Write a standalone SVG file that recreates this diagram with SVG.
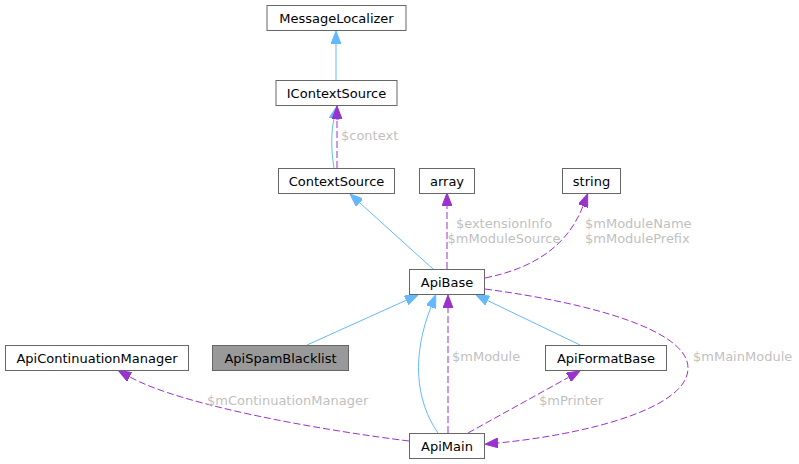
<svg xmlns="http://www.w3.org/2000/svg" width="799" height="464" viewBox="0 0 799 464">
<style>
.node rect{fill:#ffffff;stroke:#666666;stroke-width:1}
.node text{font-family:"DejaVu Sans",sans-serif;font-size:13px;fill:#000000;text-anchor:middle}
.node.hl rect{fill:#999999}
.inh{fill:none;stroke:#63b8ff;stroke-width:1}
.use{fill:none;stroke:#9a32cd;stroke-width:1;stroke-dasharray:7,3}
.lbl{font-family:"DejaVu Sans",sans-serif;font-size:13px;fill:#bfbfbf}
</style>
<defs>
<marker id="ab" viewBox="0 -5 13 10" markerWidth="13" markerHeight="10" refX="0" refY="0" orient="auto" markerUnits="userSpaceOnUse">
<path d="M0,-5 L13,0 L0,5 z" fill="#63b8ff" stroke="#63b8ff"/>
</marker>
<marker id="ap" viewBox="0 -5 13 10" markerWidth="13" markerHeight="10" refX="0" refY="0" orient="auto" markerUnits="userSpaceOnUse">
<path d="M0,-5 L13,0 L0,5 z" fill="#9a32cd" stroke="#9a32cd"/>
</marker>
</defs>
<g id="edges">
<path class="inh" d="M336,80 L336,44" marker-end="url(#ab)"/>
<path class="inh" d="M334,168 C331,150 331,132 334,119" marker-end="url(#ab)"/>
<path class="use" d="M337,168 L337,119" marker-end="url(#ap)"/>
<path class="inh" d="M433,269 L359.6,202.7" marker-end="url(#ab)"/>
<path class="use" d="M447,269 L447,206" marker-end="url(#ap)"/>
<path class="use" d="M485,278 C535,268 568,245 583,206" marker-end="url(#ap)"/>
<path class="inh" d="M307,345 L406.1,300.3" marker-end="url(#ab)"/>
<path class="inh" d="M438,433 C415,400 412,355 431,307" marker-end="url(#ab)"/>
<path class="use" d="M448,433 L448,308" marker-end="url(#ap)"/>
<path class="inh" d="M580,345 L487.7,300.6" marker-end="url(#ab)"/>
<path class="use" d="M468,433 L568.6,377.3" marker-end="url(#ap)"/>
<path class="use" d="M485,289 C590,303 688,330 688,368 C688,410 580,435 498,443" marker-end="url(#ap)"/>
<path class="use" d="M409,441 C320,430 180,405 129.6,376.8" marker-end="url(#ap)"/>
<text class="lbl" x="341" y="140">$context</text>
<text class="lbl" x="504" y="228" text-anchor="middle">$extensionInfo</text>
<text class="lbl" x="504" y="243" text-anchor="middle">$mModuleSource</text>
<text class="lbl" x="585" y="228">$mModuleName</text>
<text class="lbl" x="585" y="243">$mModulePrefix</text>
<text class="lbl" x="452" y="361">$mModule</text>
<text class="lbl" x="693" y="361">$mMainModule</text>
<text class="lbl" x="539" y="405">$mPrinter</text>
<text class="lbl" x="207" y="405">$mContinuationManager</text>
</g>
<g id="MessageLocalizer" class="node"><rect x="267" y="5.5" width="139" height="25"/><text x="336.5" y="22.5">MessageLocalizer</text></g>
<g id="IContextSource" class="node"><rect x="276" y="80.5" width="121" height="25"/><text x="336.5" y="97.5">IContextSource</text></g>
<g id="ContextSource" class="node"><rect x="278.5" y="168.5" width="116" height="25"/><text x="336.5" y="185.5">ContextSource</text></g>
<g id="array" class="node"><rect x="419.5" y="168.5" width="55" height="25"/><text x="447" y="185.5">array</text></g>
<g id="string" class="node"><rect x="562.5" y="168.5" width="58" height="25"/><text x="591.5" y="185.5">string</text></g>
<g id="ApiBase" class="node"><rect x="409.5" y="269.5" width="75" height="25"/><text x="447" y="286.5">ApiBase</text></g>
<g id="ApiContinuationManager" class="node"><rect x="5.5" y="345.5" width="183" height="25"/><text x="97" y="362.5">ApiContinuationManager</text></g>
<g id="ApiSpamBlacklist" class="node hl"><rect x="212.5" y="345.5" width="136" height="25"/><text x="280.5" y="362.5">ApiSpamBlacklist</text></g>
<g id="ApiFormatBase" class="node"><rect x="545.5" y="345.5" width="121" height="25"/><text x="606" y="362.5">ApiFormatBase</text></g>
<g id="ApiMain" class="node"><rect x="409.5" y="433.5" width="75" height="25"/><text x="447" y="450.5">ApiMain</text></g>
</svg>
